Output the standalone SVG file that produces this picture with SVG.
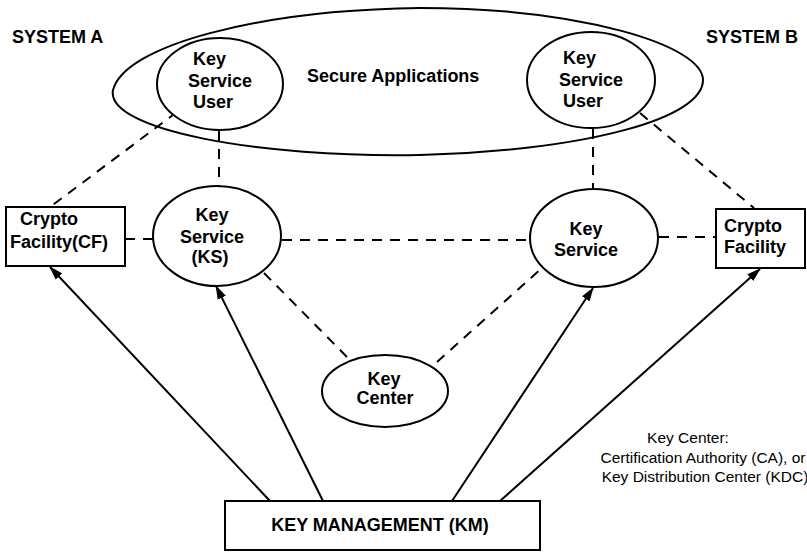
<svg xmlns="http://www.w3.org/2000/svg" width="807" height="552" viewBox="0 0 807 552">
  <defs>
    <marker id="arrow" viewBox="0 0 14 10" refX="13" refY="5" markerWidth="14" markerHeight="10" markerUnits="userSpaceOnUse" orient="auto">
      <path d="M0,0.5 L14,5 L0,9.5 Z" fill="#000"/>
    </marker>
    <style>
      .shape { fill: #fff; stroke: #000; stroke-width: 2; }
      .outline { fill: none; stroke: #000; stroke-width: 2; }
      .dash { fill: none; stroke: #000; stroke-width: 2; stroke-dasharray: 10 8; }
      .arrow { fill: none; stroke: #000; stroke-width: 2; marker-end: url(#arrow); }
      .lbl { font-family: "Liberation Sans", Arial, Helvetica, sans-serif; font-weight: bold; font-size: 18px; fill: #000; }
      .note { font-family: "Liberation Sans", Arial, Helvetica, sans-serif; font-size: 15.5px; fill: #000; text-anchor: middle; }
      .mid { text-anchor: middle; }
    </style>
  </defs>

  <rect width="807" height="552" fill="#fff"/>

  <!-- system labels -->
  <text class="lbl" x="12" y="43">SYSTEM A</text>
  <text class="lbl" x="706" y="43">SYSTEM B</text>

  <!-- secure applications boundary -->
  <g id="secure-apps">
    <path class="outline" d="M113,90 C125,45 260,10 420,8 C580,8 703,45 703,80 C703,118 590,150 420,155 C260,158 105,130 113,90 Z"/>
    <text class="lbl" x="307" y="82">Secure Applications</text>
  </g>

  <!-- connectors -->
  <g id="connectors">
    <line class="dash" x1="177" y1="112" x2="50" y2="207"/>
    <line class="dash" x1="219" y1="131" x2="219" y2="187"/>
    <line class="dash" x1="125" y1="239" x2="153" y2="239"/>
    <line class="dash" x1="282" y1="240" x2="530" y2="240"/>
    <line class="dash" x1="264" y1="273" x2="348" y2="358"/>
    <line class="dash" x1="437" y1="362" x2="542" y2="268"/>
    <line class="dash" x1="593" y1="129" x2="593" y2="189"/>
    <line class="dash" x1="640" y1="113" x2="754" y2="208"/>
    <line class="dash" x1="659" y1="237" x2="716" y2="237"/>

    <line class="arrow" x1="270" y1="501" x2="50" y2="267"/>
    <line class="arrow" x1="323" y1="501" x2="216" y2="286"/>
    <line class="arrow" x1="452" y1="501" x2="593" y2="288"/>
    <line class="arrow" x1="500" y1="501" x2="760" y2="269"/>
  </g>

  <g id="ksu-a">
    <ellipse class="shape" cx="220" cy="84" rx="63" ry="46"/>
    <text class="lbl" x="193" y="65">Key</text>
    <text class="lbl" x="188" y="87">Service</text>
    <text class="lbl" x="193" y="108">User</text>
  </g>

  <g id="ksu-b">
    <ellipse class="shape" cx="591" cy="80" rx="64" ry="48"/>
    <text class="lbl" x="563" y="64">Key</text>
    <text class="lbl" x="559" y="86">Service</text>
    <text class="lbl" x="563" y="107">User</text>
  </g>

  <g id="cf-a">
    <rect class="shape" x="6" y="207" width="119" height="59"/>
    <text class="lbl" x="20" y="225">Crypto</text>
    <text class="lbl" x="10" y="248">Facility(CF)</text>
  </g>

  <g id="ks-a">
    <ellipse class="shape" cx="217" cy="236" rx="64" ry="50"/>
    <text class="lbl mid" x="212" y="221">Key</text>
    <text class="lbl mid" x="212" y="243">Service</text>
    <text class="lbl mid" x="210" y="263">(KS)</text>
  </g>

  <g id="ks-b">
    <ellipse class="shape" cx="594" cy="238" rx="64" ry="49"/>
    <text class="lbl mid" x="586" y="235">Key</text>
    <text class="lbl mid" x="586" y="256">Service</text>
  </g>

  <g id="cf-b">
    <rect class="shape" x="716" y="209" width="89" height="59"/>
    <text class="lbl" x="724" y="232">Crypto</text>
    <text class="lbl" x="724" y="253">Facility</text>
  </g>

  <g id="key-center">
    <ellipse class="shape" cx="385" cy="391" rx="63" ry="36"/>
    <text class="lbl mid" x="384" y="385">Key</text>
    <text class="lbl mid" x="385" y="404">Center</text>
  </g>

  <g id="key-management">
    <rect class="shape" x="225" y="501" width="315" height="49"/>
    <text class="lbl mid" x="380" y="531">KEY MANAGEMENT (KM)</text>
  </g>

  <g id="key-center-note">
    <text class="note" x="688" y="443">Key Center:</text>
    <text class="note" x="703" y="463">Certification Authority (CA), or</text>
    <text class="note" x="705" y="482">Key Distribution Center (KDC)</text>
  </g>
</svg>
